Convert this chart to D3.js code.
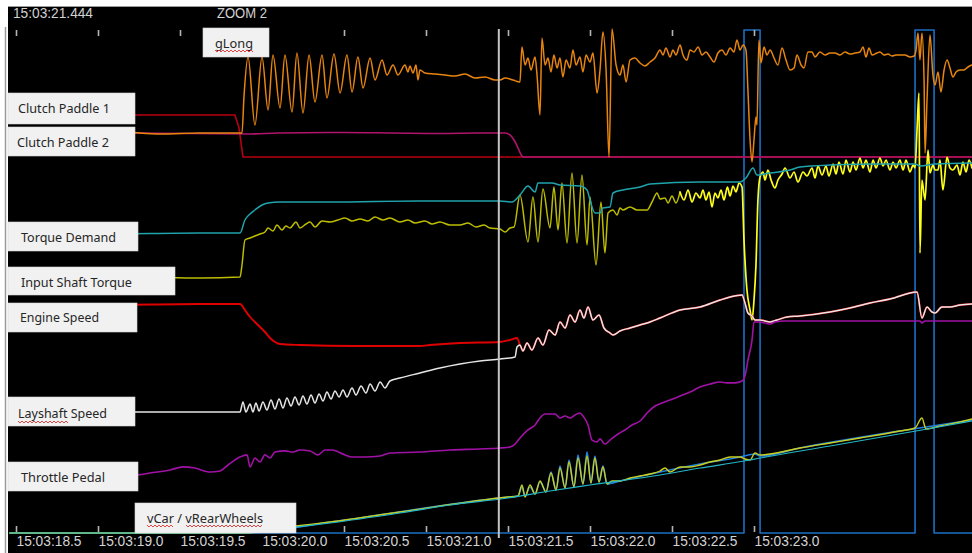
<!DOCTYPE html>
<html>
<head>
<meta charset="utf-8">
<script src="https://cdn.jsdelivr.net/npm/d3@7"></script>
<style>
html, body { margin: 0; padding: 0; background: #ffffff; }
svg { display: block; }
</style>
</head>
<body>
<svg id="chart" width="972" height="553"></svg>
<script>
// ---------------- logged data (time = seconds past 15:03) ----------------
const clockPrefix = "15:03:";
const cursorTime = 21.444;
const zoomLevel = 2;
const timeTicks = [18.5, 19.0, 19.5, 20.0, 20.5, 21.0, 21.5, 22.0, 22.5, 23.0];
const viewStart = 18.463, viewEnd = 24.329;

// longitudinal acceleration [g]
const gLong = [
  [18.463,0],[18.646,0.02],[18.890,-0.02],[19.134,0.02],[19.378,-0.02],[19.622,0],[19.878,0],
  [19.890,0.72],[19.915,1.52],[19.957,0.16],[20.000,1.52],[20.037,0.46],[20.067,1.56],[20.110,0.50],
  [20.140,1.56],[20.183,0.42],[20.213,1.60],[20.250,0.40],[20.287,1.56],[20.323,0.62],[20.366,1.56],
  [20.396,0.70],[20.439,1.58],[20.476,0.80],[20.518,1.56],[20.549,0.82],[20.585,1.52],[20.616,0.90],
  [20.659,1.50],[20.689,1.06],[20.732,1.46],[20.762,1.16],[20.799,1.36],[20.829,1.16],[20.872,1.36],
  [20.890,1.22],[20.902,1.34],[20.921,1.20],[20.939,1.36],[20.951,1.06],[20.963,1.26],[20.994,1.20],
  [21.055,1.18],[21.116,1.16],[21.177,1.14],[21.238,1.18],[21.299,1.10],[21.360,1.12],[21.421,1.06],
  [21.451,1.06],[21.482,1.10],[21.530,1.06],[21.573,1.02],[21.585,1.72],[21.604,1.36],[21.622,1.50],
  [21.640,1.26],[21.665,1.52],[21.677,1.16],[21.695,0.36],[21.707,1.90],[21.726,1.36],[21.744,1.50],
  [21.762,1.22],[21.780,1.56],[21.799,1.30],[21.817,1.50],[21.835,1.12],[21.854,1.46],[21.878,1.30],
  [21.896,1.66],[21.915,1.36],[21.939,1.52],[21.957,1.22],[21.976,1.56],[22.000,1.42],[22.018,1.60],
  [22.043,0.80],[22.061,1.26],[22.079,2.02],[22.098,1.26],[22.116,-0.48],[22.134,2.08],[22.159,1.36],
  [22.183,1.16],[22.201,1.36],[22.220,1.02],[22.244,1.46],[22.274,1.50],[22.305,1.40],[22.335,1.34],
  [22.366,1.42],[22.396,1.50],[22.427,1.66],[22.445,1.56],[22.463,1.70],[22.488,1.52],[22.506,1.66],
  [22.524,1.56],[22.549,1.76],[22.567,1.56],[22.591,1.46],[22.610,1.66],[22.634,1.62],[22.659,1.72],
  [22.683,1.56],[22.707,1.62],[22.732,1.52],[22.756,1.42],[22.780,1.60],[22.805,1.66],[22.829,1.56],
  [22.854,1.70],[22.878,1.62],[22.896,1.86],[22.915,1.66],[22.933,1.76],[22.951,1.66],[22.963,0.86],
  [22.976,-0.14],[22.988,-0.58],[23.000,-0.14],[23.012,0.32],[23.018,0.16],[23.030,1.86],[23.043,1.40],
  [23.061,1.72],[23.079,1.56],[23.098,1.66],[23.122,1.50],[23.146,1.36],[23.171,1.70],[23.195,1.46],
  [23.220,1.26],[23.244,1.30],[23.262,1.56],[23.287,1.36],[23.305,1.30],[23.329,1.62],[23.354,1.62],
  [23.372,1.52],[23.402,1.62],[23.433,1.56],[23.463,1.60],[23.494,1.60],[23.524,1.56],[23.555,1.62],
  [23.585,1.58],[23.616,1.60],[23.646,1.62],[23.665,1.72],[23.683,1.52],[23.701,1.70],[23.720,1.56],
  [23.750,1.60],[23.768,1.62],[23.793,1.56],[23.817,1.58],[23.841,1.54],[23.866,1.56],[23.890,1.56],
  [23.921,1.56],[23.951,1.52],[23.976,1.54],[23.988,1.66],[24.000,2.00],[24.012,1.46],[24.024,2.00],
  [24.037,1.06],[24.043,-0.40],[24.055,0.66],[24.073,1.96],[24.091,1.16],[24.104,0.96],[24.122,1.22],
  [24.140,0.82],[24.159,1.26],[24.177,1.46],[24.195,1.30],[24.213,1.12],[24.232,1.22],[24.256,1.26],
  [24.280,1.26],[24.305,1.32],[24.329,1.36]
];

// clutch paddle positions [%]
const clutchPaddle1 = [[18.463,100],[19.835,100],[19.860,69],[19.884,0],[24.329,0]];
const clutchPaddle2 = [
  [18.463,100],[19.200,100],[19.920,96],[20.100,100],[20.500,102],[20.800,100],[21.100,98],
  [21.300,100],[21.482,100],[21.512,92],[21.537,71],[21.561,38],[21.585,4],[21.598,0],[24.329,0]
];

// torque demand [Nm]
const torqueDemand = [
  [18.463,85],[19.012,80],[19.622,85],[19.866,85],[19.896,150],[19.927,180],[19.957,200],[20.000,225],
  [20.037,235],[20.110,240],[20.415,240],[20.963,245],[21.451,245],[21.524,240],[21.573,275],[21.622,320],
  [21.665,290],[21.683,335],[21.768,335],[21.817,325],[21.939,320],[21.982,300],[22.000,250],[22.030,185],
  [22.061,185],[22.079,210],[22.122,215],[22.140,285],[22.201,300],[22.305,315],[22.366,330],[22.671,340],
  [22.915,340],[22.951,360],[22.994,410],[23.018,375],[23.098,385],[23.220,400],[23.280,415],[23.463,425],
  [23.768,430],[23.982,430],[24.012,420],[24.104,430],[24.329,435]
];

// input shaft torque [Nm]
const inputShaftTorque = [
  [18.463,52],[18.768,48],[19.012,56],[19.317,52],[19.622,48],[19.866,52],[19.878,100],[19.896,200],
  [19.927,208],[19.957,216],[19.988,224],[20.018,232],[20.037,248],[20.067,236],[20.091,260],[20.122,240],
  [20.146,256],[20.171,248],[20.207,272],[20.232,248],[20.268,264],[20.293,272],[20.323,252],[20.366,276],
  [20.415,272],[20.463,280],[20.506,288],[20.549,276],[20.598,284],[20.646,276],[20.689,292],[20.738,280],
  [20.780,288],[20.841,272],[20.890,280],[20.933,268],[20.994,276],[21.037,264],[21.085,272],[21.146,260],
  [21.207,260],[21.256,268],[21.305,252],[21.354,260],[21.390,248],[21.451,244],[21.482,232],[21.512,248],
  [21.537,252],[21.573,380],[21.622,192],[21.652,372],[21.683,192],[21.713,404],[21.756,248],[21.780,412],
  [21.805,240],[21.829,428],[21.860,188],[21.890,468],[21.921,188],[21.951,460],[21.982,180],[22.000,372],
  [22.037,100],[22.067,352],[22.091,148],[22.110,308],[22.140,320],[22.165,300],[22.183,328],[22.201,320],
  [22.244,332],[22.287,320],[22.348,320],[22.378,352],[22.409,388],[22.427,364],[22.457,368],[22.476,348],
  [22.500,376],[22.524,348],[22.549,392],[22.573,360],[22.598,400],[22.622,352],[22.646,388],[22.671,368],
  [22.689,400],[22.707,360],[22.726,392],[22.744,332],[22.762,388],[22.780,368],[22.799,400],[22.817,360],
  [22.838,412],[22.854,376],[22.872,416],[22.890,392],[22.909,428],[22.927,412],[22.939,200],[22.957,0],
  [22.976,-80],[22.988,-120],[23.000,-40],[23.012,100],[23.024,360],[23.037,452],[23.055,472],[23.067,440],
  [23.085,480],[23.104,440],[23.128,408],[23.146,440],[23.171,464],[23.189,488],[23.220,448],[23.244,472],
  [23.268,432],[23.299,472],[23.323,456],[23.354,488],[23.372,448],[23.390,496],[23.415,460],[23.439,496],
  [23.457,456],[23.482,504],[23.500,464],[23.518,512],[23.543,464],[23.561,520],[23.585,472],[23.604,512],
  [23.622,480],[23.646,528],[23.665,488],[23.683,520],[23.707,472],[23.726,520],[23.744,488],[23.768,528],
  [23.787,496],[23.805,520],[23.829,480],[23.848,512],[23.866,488],[23.890,520],[23.909,480],[23.927,520],
  [23.951,472],[23.970,500],[23.982,488],[23.994,640],[24.006,788],[24.012,148],[24.024,440],[24.043,360],
  [24.061,560],[24.073,468],[24.091,500],[24.104,480],[24.122,480],[24.134,520],[24.152,400],[24.177,532],
  [24.195,488],[24.213,480],[24.238,500],[24.256,460],[24.274,512],[24.293,472],[24.311,520],[24.329,488]
];
const torqueFilterOffFrom = 22.549;   // raw (unfiltered) torque signal from here on

// engine speed [rpm] while the clutch is slipping
const engineSpeed = [
  [18.463,9360],[19.012,9300],[19.622,9360],[19.866,9360],[19.896,9000],[19.927,8580],[19.957,8280],
  [19.988,7980],[20.018,7680],[20.049,7320],[20.079,7080],[20.110,6960],[20.232,6900],[20.567,6840],
  [20.963,6840],[21.024,6900],[21.207,7020],[21.451,7080],[21.512,7200],[21.555,7320]
];
const clutchLockTime = 21.56;

// layshaft speed [rpm]
const layshaftSpeed = [
  [18.463,2880],[19.012,2880],[19.866,2880],[19.884,3480],[19.902,2880],[19.927,3360],[19.945,2880],
  [19.963,3420],[19.982,2940],[20.006,3480],[20.030,3000],[20.055,3600],[20.079,3060],[20.104,3660],
  [20.128,3120],[20.152,3720],[20.177,3240],[20.201,3780],[20.226,3300],[20.250,3840],[20.274,3360],
  [20.299,3900],[20.323,3420],[20.348,3960],[20.372,3540],[20.396,4080],[20.421,3660],[20.445,4140],
  [20.470,3780],[20.494,4200],[20.518,3780],[20.549,4320],[20.573,3900],[20.604,4440],[20.634,4020],
  [20.659,4560],[20.689,4140],[20.720,4680],[20.750,4320],[20.780,4740],[20.841,4920],[20.963,5220],
  [21.085,5520],[21.207,5760],[21.329,5940],[21.451,6060],[21.543,6180],[21.555,6780],[21.573,6900],
  [21.591,6540],[21.616,7020],[21.646,6600],[21.683,7320],[21.713,6900],[21.750,7800],[21.787,7500],
  [21.817,8280],[21.848,7920],[21.878,8700],[21.909,8280],[21.939,9000],[21.963,8520],[21.988,9180],
  [22.018,8400],[22.055,8700],[22.085,7920],[22.122,7620],[22.140,7500],[22.183,7740],[22.244,7920],
  [22.305,8100],[22.366,8280],[22.427,8520],[22.549,9000],[22.671,9180],[22.793,9600],[22.854,9780],
  [22.927,9900],[22.945,9420],[22.963,8820],[22.988,8640],[23.006,8400],[23.037,8400],[23.098,8280],
  [23.140,8400],[23.201,8580],[23.280,8640],[23.463,8880],[23.585,9120],[23.707,9420],[23.829,9660],
  [23.994,10080],[24.024,8520],[24.055,9180],[24.085,8880],[24.104,8820],[24.146,9180],[24.195,9180],
  [24.256,9300],[24.329,9360]
];

// throttle pedal [%]
const throttlePedal = [
  [18.463,3.1],[19.244,3.8],[19.317,5.0],[19.439,6.9],[19.518,8.8],[19.591,8.1],[19.683,5.6],[19.744,6.3],
  [19.793,10.0],[19.866,15.0],[19.909,16.3],[19.927,8.8],[19.957,14.4],[19.988,11.9],[20.018,16.3],
  [20.049,14.4],[20.079,18.1],[20.140,18.8],[20.189,18.1],[20.232,19.4],[20.293,18.8],[20.341,16.3],
  [20.384,19.4],[20.427,19.4],[20.506,16.3],[20.549,15.0],[20.628,15.0],[20.720,15.6],[20.780,17.5],
  [20.963,18.1],[21.146,19.4],[21.329,20.0],[21.451,20.6],[21.512,21.3],[21.543,23.1],[21.573,26.9],
  [21.622,31.9],[21.665,35.0],[21.695,39.4],[21.726,41.9],[21.787,41.9],[21.817,39.4],[21.848,40.6],
  [21.878,39.4],[21.909,41.3],[21.939,42.5],[21.957,40.6],[21.988,35.0],[22.012,25.6],[22.043,24.4],
  [22.061,26.3],[22.091,23.1],[22.122,25.6],[22.171,29.4],[22.213,31.9],[22.256,35.0],[22.305,37.5],
  [22.354,43.1],[22.396,46.9],[22.439,48.8],[22.488,50.6],[22.549,53.1],[22.610,55.6],[22.671,58.8],
  [22.732,60.6],[22.793,61.9],[22.835,61.3],[22.884,61.3],[22.927,62.5],[22.945,65.6],[22.963,75.6],
  [22.988,88.1],[23.000,99.4],[23.024,99.4],[23.067,98.8],[23.098,98.1],[23.128,99.4],[23.189,100],
  [24.012,100],[24.024,98.8],[24.043,100],[24.329,100]
];

// vehicle speed and rear wheel speeds [km/h]
const vCar = [
  [18.463,0],[19.890,0],[20.049,3],[20.207,6],[20.415,10],[20.841,20],[21.146,28],[21.500,35],[21.756,42],
  [22.000,48],[22.427,58],[22.671,65],[22.939,72],[23.037,75],[23.463,87],[23.988,102],[24.329,112]
];
const vRearLeft = [
  [18.463,0],[19.890,0],[20.415,11],[21.500,36],[21.561,37],[21.585,46],[21.604,37],[21.634,46],[21.665,39],
  [21.695,51],[21.732,41],[21.762,61],[21.793,43],[21.817,67],[21.848,45],[21.872,73],[21.902,46],[21.927,78],
  [21.957,49],[21.982,81],[22.006,50],[22.030,77],[22.055,51],[22.079,67],[22.104,49],[22.183,52],[22.427,61],
  [22.671,69],[22.915,76],[23.006,79],[23.037,77],[23.280,85],[23.890,102],[24.329,113]
];
const vRearRight = [
  [18.463,0],[19.890,0],[20.207,7],[20.415,11],[20.841,21],[21.500,36],[21.561,37],[21.585,48],[21.604,36],
  [21.634,48],[21.665,39],[21.695,52],[21.732,41],[21.762,60],[21.793,43],[21.817,65],[21.848,45],[21.872,71],
  [21.902,46],[21.927,75],[21.957,49],[21.982,77],[22.006,50],[22.030,75],[22.055,51],[22.079,66],[22.104,49],
  [22.134,52],[22.183,52],[22.244,55],[22.305,57],[22.366,59],[22.427,62],[22.457,65],[22.488,61],[22.549,66],
  [22.610,66],[22.671,68],[22.732,71],[22.793,73],[22.854,76],[22.915,76],[22.945,74],[22.976,73],[23.006,80],
  [23.037,78],[23.098,79],[23.280,85],[23.463,90],[23.646,95],[23.890,102],[23.982,105],[24.024,115],
  [24.049,104],[24.134,107],[24.256,111],[24.329,114]
];

// gear shift active flag (step)
const shiftFlag = [[18.463,0],[22.939,1],[23.037,0],[23.982,1],[24.098,0],[24.329,0]];

// channel names shown in the label boxes
const labelNames = ["gLong", "Clutch Paddle 1", "Clutch Paddle 2", "Torque Demand", "Input Shaft Torque",
                    "Engine Speed", "Layshaft Speed", "Throttle Pedal", "vCar / vRearWheels"];

// ---------------- layout ----------------
const W = 972, H = 553;
const plot = { left: 8, top: 6, right: 972, bottom: 553 };

const labelLayout = [
  { x: 203, y: 28,  w: 66,  h: 29, tx: 215, ty: 48,  tw: 38,  wavy: [[215, 254, 50]] },
  { x: 8,   y: 93,  w: 127, h: 31, tx: 18,  ty: 113, tw: 92 },
  { x: 8,   y: 127, w: 127, h: 29, tx: 17,  ty: 147, tw: 92 },
  { x: 8,   y: 222, w: 130, h: 29, tx: 21,  ty: 242, tw: 95 },
  { x: 8,   y: 267, w: 167, h: 28, tx: 21,  ty: 287, tw: 111 },
  { x: 8,   y: 303, w: 129, h: 29, tx: 20,  ty: 322, tw: 79 },
  { x: 8,   y: 397, w: 127, h: 29, tx: 18,  ty: 418, tw: 89,  wavy: [[18, 68, 421]] },
  { x: 8,   y: 462, w: 130, h: 29, tx: 21,  ty: 482, tw: 84 },
  { x: 135, y: 503, w: 161, h: 30, tx: 147, ty: 523, tw: 116, wavy: [[147, 173, 525], [186, 263, 525]] }
];

const svg = d3.select("#chart");

// time axis: 0.5 s per 82 px
const x = d3.scaleLinear().domain([18.5, 23.0]).range([16, 754]);

// one vertical band per channel
const yG     = d3.scaleLinear().domain([0, 2]).range([133, 33]);
const yCP1   = d3.scaleLinear().domain([0, 100]).range([157, 115]);
const yCP2   = d3.scaleLinear().domain([0, 100]).range([157, 133]);
const yTD    = d3.scaleLinear().domain([0, 500]).range([250, 150]);
const yIST   = d3.scaleLinear().domain([0, 800]).range([290, 90]);
const ySpeed = d3.scaleLinear().domain([0, 9600]).range([460, 300]);
const yThr   = d3.scaleLinear().domain([0, 100]).range([481, 321]);
const yV     = d3.scaleLinear().domain([0, 120]).range([533, 413]);
const yShift = d3.scaleLinear().domain([0, 1]).range([533, 30]);

// ---------------- frame ----------------
svg.append("rect").attr("x", 0).attr("y", 0).attr("width", W).attr("height", H).attr("fill", "#ffffff");
svg.append("rect")
  .attr("x", plot.left).attr("y", plot.top)
  .attr("width", plot.right - plot.left).attr("height", plot.bottom - plot.top)
  .attr("fill", "#000000");
svg.append("line").attr("x1", plot.left).attr("x2", plot.right).attr("y1", 6.5).attr("y2", 6.5)
  .attr("stroke", "#9a9a9a").attr("stroke-width", 1);
svg.append("line").attr("x1", 5.5).attr("x2", 5.5).attr("y1", 27).attr("y2", H)
  .attr("stroke", "#9a9a9a").attr("stroke-width", 1.5);

svg.append("defs").append("clipPath").attr("id", "plotClip")
  .append("rect").attr("x", plot.left).attr("y", plot.top)
  .attr("width", plot.right - plot.left).attr("height", plot.bottom - plot.top);

const traces = svg.append("g").attr("clip-path", "url(#plotClip)");

function drawTrace(data, yScale, color, width, curve) {
  const gen = d3.line()
    .x(d => x(d[0]))
    .y(d => yScale(d[1]))
    .curve(curve || d3.curveMonotoneX);
  traces.append("path")
    .datum(data)
    .attr("d", gen)
    .attr("fill", "none")
    .attr("stroke", color)
    .attr("stroke-width", width)
    .attr("stroke-linejoin", "round")
    .attr("stroke-linecap", "round");
}

// ---------------- axes ----------------
const axisTop = d3.axisTop(x).tickValues(timeTicks).tickSize(6).tickFormat("");
const gTop = svg.append("g").attr("transform", "translate(0,36)").call(axisTop);
gTop.select(".domain").remove();
gTop.selectAll(".tick line").attr("stroke", "#b4b4b4").attr("stroke-width", 1.6);

const axisBottom = d3.axisBottom(x).tickValues(timeTicks).tickSize(6)
  .tickFormat(d => clockPrefix + d.toFixed(1));
const gBot = svg.append("g").attr("transform", "translate(0,526)").call(axisBottom);
gBot.select(".domain").remove();
gBot.selectAll(".tick line").attr("stroke", "#b4b4b4").attr("stroke-width", 1.6);
gBot.selectAll(".tick text")
  .attr("fill", "#d4d4d4")
  .attr("font-family", "'Liberation Sans', Arial, sans-serif")
  .attr("font-size", 15)
  .attr("text-anchor", "start")
  .attr("x", 0).attr("y", 20).attr("dy", 0)
  .attr("textLength", 65).attr("lengthAdjust", "spacingAndGlyphs");

// ---------------- traces ----------------
drawTrace(shiftFlag, yShift, "#1c6fc4", 1.6, d3.curveStepAfter);

drawTrace(clutchPaddle1, yCP1, "#b80010", 1.6, d3.curveLinear);
drawTrace(clutchPaddle2, yCP2, "#b0146c", 1.6);
drawTrace(gLong, yG, "#e8850f", 1.5);

drawTrace(inputShaftTorque.filter(d => d[0] <= torqueFilterOffFrom), yIST, "#bcbc00", 1.5);
drawTrace(inputShaftTorque.filter(d => d[0] >= torqueFilterOffFrom), yIST, "#ffff1a", 1.7);
drawTrace(torqueDemand, yTD, "#1fa3ad", 1.5);

// once the clutch is locked the engine runs with the layshaft
const engineFull = engineSpeed.concat(layshaftSpeed.filter(d => d[0] > clutchLockTime));
drawTrace(engineFull, ySpeed, "#e00000", 1.9);
drawTrace(layshaftSpeed, ySpeed, "#e6e6e6", 1.5);

drawTrace(throttlePedal, yThr, "#a012a6", 1.6);

drawTrace(vRearLeft, yV, "#1f7fe0", 1.6);
drawTrace(vRearRight, yV, "#c9cf1c", 1.4);
drawTrace(vCar, yV, "#22b6c8", 1.2);

// cursor
traces.append("line")
  .attr("x1", x(cursorTime)).attr("x2", x(cursorTime))
  .attr("y1", 29).attr("y2", 538)
  .attr("stroke", "#c4c4c4").attr("stroke-width", 2);

// ---------------- label boxes ----------------
function squiggle(x0, x1, y) {
  const pts = [];
  for (let px = x0, i = 0; px <= x1; px += 2, i++) pts.push([px, y + (i % 2 ? 2 : 0)]);
  return d3.line()(pts);
}

const labels = svg.append("g");
labelNames.forEach((name, i) => {
  const L = labelLayout[i];
  labels.append("rect")
    .attr("x", L.x).attr("y", L.y).attr("width", L.w).attr("height", L.h)
    .attr("fill", "#f1f1f1").attr("stroke", "#d6d6d6").attr("stroke-width", 0.6);
  labels.append("text")
    .attr("x", L.tx).attr("y", L.ty)
    .attr("font-family", "'Noto Sans', 'Open Sans', sans-serif")
    .attr("font-size", 13)
    .attr("fill", "#262626")
    .attr("textLength", L.tw).attr("lengthAdjust", "spacingAndGlyphs")
    .text(name);
  (L.wavy || []).forEach(w => {
    labels.append("path").attr("d", squiggle(w[0], w[1], w[2]))
      .attr("fill", "none").attr("stroke", "#e03030").attr("stroke-width", 0.9);
  });
});

// ---------------- header texts ----------------
svg.append("text")
  .attr("x", 13).attr("y", 18)
  .attr("font-family", "'Liberation Sans', Arial, sans-serif")
  .attr("font-size", 14).attr("fill", "#d2d2d2")
  .attr("textLength", 80).attr("lengthAdjust", "spacingAndGlyphs")
  .text(clockPrefix + cursorTime.toFixed(3));
svg.append("text")
  .attr("x", 217).attr("y", 18)
  .attr("font-family", "'Liberation Sans', Arial, sans-serif")
  .attr("font-size", 14).attr("fill", "#d2d2d2")
  .attr("textLength", 50).attr("lengthAdjust", "spacingAndGlyphs")
  .text("ZOOM " + zoomLevel);
</script>
</body>
</html>
